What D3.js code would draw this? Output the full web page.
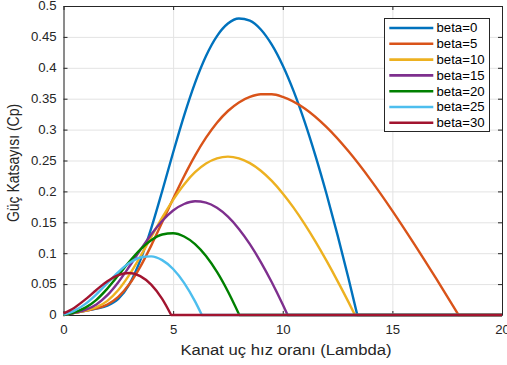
<!DOCTYPE html>
<html>
<head>
<meta charset="utf-8">
<script src="https://cdn.jsdelivr.net/npm/d3@7"></script>
<style>
  body { margin: 0; background: #fff; }
  svg { display: block; font-family: "Liberation Sans", Arial, Helvetica, sans-serif; }
</style>
</head>
<body>
<svg id="chart" width="507" height="365"></svg>
<script>
// pitch angles and Cp(lambda), [lambda, Cp]
const betas = [0, 5, 10, 15, 20, 25, 30];

const cpBeta0 = [[0,0],[0.5,0.0034],[1,0.0068],[1.5,0.0103],[2,0.0151],[2.5,0.0261],[3,0.0496],[3.5,0.0883],
  [4,0.1402],[4.5,0.2003],[5,0.2629],[5.5,0.3227],[6,0.3757],[6.5,0.4191],[7,0.4513],[7.5,0.4716],[8,0.4798],
  [8.5,0.4763],[9,0.4620],[9.5,0.4374],[10,0.4037],[10.5,0.3618],[11,0.3125],[11.5,0.2567],[12,0.1954],
  [12.5,0.1293],[13,0.0590],[13.4,0]];
const cpBeta5 = [[0,0],[0.5,0.0034],[1,0.0068],[1.5,0.0106],[2,0.0170],[2.5,0.0293],[3,0.0497],[3.5,0.0780],
  [4,0.1123],[4.5,0.1499],[5,0.1880],[5.5,0.2245],[6,0.2579],[6.5,0.2869],[7,0.3112],[7.5,0.3301],[8,0.3440],
  [8.5,0.3529],[9,0.3572],[9.5,0.3571],[10,0.3529],[11,0.3341],[12,0.3039],[13,0.2648],[14,0.2191],
  [15,0.1686],[16,0.1147],[17,0.0587],[18.02,0]];
const cpBeta10 = [[0,0],[0.5,0.0034],[1,0.0070],[1.5,0.0125],[2,0.0229],[2.5,0.0403],[3,0.0648],[3.5,0.0943],
  [4,0.1261],[4.5,0.1575],[5,0.1864],[5.5,0.2113],[6,0.2310],[6.5,0.2451],[7,0.2534],[7.5,0.2562],[8,0.2534],
  [8.5,0.2457],[9,0.2334],[9.5,0.2169],[10,0.1967],[10.5,0.1733],[11,0.1470],[11.5,0.1183],[12,0.0875],
  [12.5,0.0549],[13,0.0208],[13.29,0]];
const cpBeta15 = [[0,0],[0.5,0.0035],[1,0.0083],[1.5,0.0171],[2,0.0321],[2.5,0.0531],[3,0.0784],[3.5,0.1050],
  [4,0.1304],[4.5,0.1522],[5,0.1690],[5.5,0.1796],[6,0.1840],[6.5,0.1818],[7,0.1734],[7.5,0.1590],[8,0.1393],
  [8.5,0.1147],[9,0.0857],[9.5,0.0530],[10,0.0169],[10.22,0]];
const cpBeta20 = [[0,0.0001],[0.5,0.0044],[1,0.0119],[1.5,0.0246],[2,0.0427],[2.5,0.0642],[3,0.0862],[3.5,0.1059],
  [4,0.1211],[4.5,0.1302],[5,0.1323],[5.5,0.1271],[6,0.1147],[6.5,0.0954],[7,0.0696],[7.5,0.0380],[8.02,0]];
const cpBeta25 = [[0,0.0006],[0.5,0.0071],[1,0.0180],[1.5,0.0335],[2,0.0516],[2.5,0.0695],[3,0.0840],[3.5,0.0931],
  [4,0.0949],[4.5,0.0888],[5,0.0745],[5.5,0.0521],[6,0.0221],[6.31,0]];
const cpBeta30 = [[0,0.0026],[0.5,0.0119],[1,0.0252],[1.5,0.0405],[2,0.0546],[2.5,0.0646],[3,0.0679],[3.5,0.0630],
  [4,0.0491],[4.5,0.0260],[4.91,0]];

const series = [cpBeta0, cpBeta5, cpBeta10, cpBeta15, cpBeta20, cpBeta25, cpBeta30];

const xTicks = [0, 5, 10, 15, 20];
const yTicks = [0, 0.05, 0.1, 0.15, 0.2, 0.25, 0.3, 0.35, 0.4, 0.45, 0.5];
const yTickLabels = ['0','0.05','0.1','0.15','0.2','0.25','0.3','0.35','0.4','0.45','0.5'];

const colors = ['#0072BD','#D95319','#EDB120','#7E2F8E','#008000','#4DBEEE','#A2142F'];
const axisColor = '#262626';

const plotLeft = 63.5, plotRight = 502, plotTop = 6, plotBottom = 315;

const svg = d3.select('#chart');

const x = d3.scaleLinear().domain([0, 20]).range([plotLeft, plotRight]);
const y = d3.scaleLinear().domain([0, 0.5]).range([plotBottom, plotTop]);

// grid
svg.append('g')
  .attr('transform', `translate(0,${plotBottom})`)
  .call(d3.axisBottom(x).tickValues(xTicks).tickSize(-(plotBottom - plotTop)).tickFormat(''))
  .call(g => g.select('.domain').remove())
  .selectAll('line').attr('stroke', '#e3e3e3').attr('stroke-width', 1);

svg.append('g')
  .attr('transform', `translate(${plotLeft},0)`)
  .call(d3.axisLeft(y).tickValues(yTicks).tickSize(-(plotRight - plotLeft)).tickFormat(''))
  .call(g => g.select('.domain').remove())
  .selectAll('line').attr('stroke', '#e3e3e3').attr('stroke-width', 1);

// axes box, ticks pointing inward
function styleAxis(g) {
  g.attr('font-family', null).attr('font-size', null);
  g.selectAll('.domain, line').attr('stroke', axisColor);
  g.selectAll('text').attr('fill', axisColor).attr('font-size', 12).attr('transform', 'scale(1.1,1)');
}

svg.append('g')
  .attr('transform', `translate(0,${plotBottom})`)
  .call(d3.axisBottom(x).tickValues(xTicks).tickSize(-4).tickSizeOuter(0).tickPadding(10.5))
  .call(styleAxis);

svg.append('g')
  .attr('transform', `translate(${plotLeft},0)`)
  .call(d3.axisLeft(y).tickValues(yTicks).tickFormat((d, i) => yTickLabels[i]).tickSize(-4).tickSizeOuter(0).tickPadding(6.3))
  .call(styleAxis);

svg.append('g')
  .attr('transform', `translate(0,${plotTop})`)
  .call(d3.axisTop(x).tickValues(xTicks).tickSize(-4).tickSizeOuter(0).tickFormat(''))
  .call(styleAxis);

svg.append('g')
  .attr('transform', `translate(${plotRight},0)`)
  .call(d3.axisRight(y).tickValues(yTicks).tickSize(-4).tickSizeOuter(0).tickFormat(''))
  .call(styleAxis);

// curves, each one runs flat along zero after it crosses it
const line = d3.line()
  .x(d => x(d[0]))
  .y(d => y(d[1]))
  .curve(d3.curveMonotoneX);

series.forEach((pts, i) => {
  svg.append('path')
    .attr('d', line(pts) + `L${x(20)},${y(0)}`)
    .attr('fill', 'none')
    .attr('stroke', colors[i])
    .attr('stroke-width', 2.4)
    .attr('stroke-linejoin', 'round');
});

// axis titles
svg.append('text')
  .attr('transform', 'translate(286,355) scale(1.15,1)')
  .attr('text-anchor', 'middle')
  .attr('font-size', 14.5)
  .attr('fill', axisColor)
  .text('Kanat uç hız oranı (Lambda)');

svg.append('text')
  .attr('transform', 'translate(18.5,163) scale(1.12,1) rotate(-90)')
  .attr('text-anchor', 'middle')
  .attr('font-size', 14)
  .attr('fill', axisColor)
  .text('Güç Katsayısı (Cp)');

// legend
const legend = svg.append('g');
legend.append('rect')
  .attr('x', 384.5).attr('y', 18.5)
  .attr('width', 105).attr('height', 113)
  .attr('fill', '#fff')
  .attr('stroke', axisColor)
  .attr('stroke-width', 1);

const items = legend.selectAll('.legends').data(betas)
  .enter().append('g').classed('legends', true)
  .attr('transform', (d, i) => `translate(0,${28 + i * 15.8})`);

items.append('line')
  .attr('x1', 389.3).attr('x2', 433.3)
  .attr('stroke', (d, i) => colors[i])
  .attr('stroke-width', 2.6);

items.append('text')
  .attr('transform', 'translate(436.5,0) scale(1.1,1)')
  .attr('dy', '0.36em')
  .attr('font-size', 12)
  .attr('fill', '#000')
  .text(d => `beta=${d}`);
</script>
</body>
</html>
